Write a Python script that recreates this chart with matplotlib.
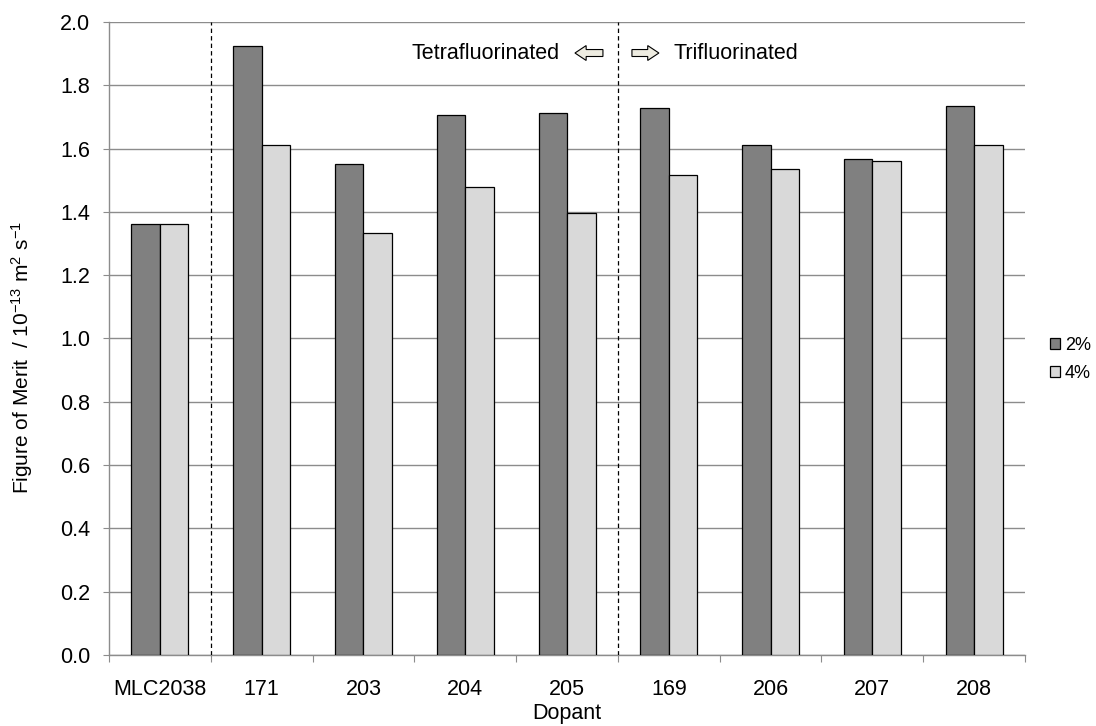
import numpy as np
import matplotlib.pyplot as plt
from matplotlib.patches import FancyArrow

plt.rcParams['font.family'] = ['Liberation Sans', 'DejaVu Sans']
plt.rcParams['mathtext.fontset'] = 'custom'
plt.rcParams['mathtext.rm'] = 'Liberation Sans'
plt.rcParams['mathtext.it'] = 'Liberation Sans'

dopants = ['MLC2038', '171', '203', '204', '205', '169', '206', '207', '208']
fom_2pct = [1.362, 1.924, 1.551, 1.707, 1.712, 1.729, 1.612, 1.568, 1.734]
fom_4pct = [1.362, 1.612, 1.334, 1.479, 1.396, 1.517, 1.535, 1.561, 1.612]
series_names = ['2%', '4%']

fig = plt.figure(figsize=(10.96, 7.26), dpi=100)
ax = fig.add_axes([0.0995, 0.0978, 0.8357, 0.8719])

x = np.arange(len(dopants))
w = 0.28
b1 = ax.bar(x - w / 2, fom_2pct, w, color='#808080', edgecolor='black', linewidth=0.9,
            label=series_names[0], zorder=3)
b2 = ax.bar(x + w / 2, fom_4pct, w, color='#d9d9d9', edgecolor='black', linewidth=0.9,
            label=series_names[1], zorder=3)

ax.set_xlim(-0.5, len(dopants) - 0.5)
ax.set_ylim(0, 2.0)
yt = np.arange(0, 2.01, 0.2)
ax.set_yticks(yt)
ax.set_yticklabels([f'{v:.1f}' for v in yt])
ax.yaxis.grid(True, color='#8c8c8c', linewidth=1.0, zorder=0)
ax.set_axisbelow(True)

# ticks at category boundaries, labels at the centres
ax.set_xticks(np.arange(-0.5, len(dopants), 1.0))
ax.set_xticklabels([])
ax.set_xticks(x, minor=True)
ax.set_xticklabels(dopants, minor=True)
ax.tick_params(axis='x', which='major', length=5, color='#8c8c8c', direction='out')
ax.tick_params(axis='x', which='minor', length=0, pad=17, labelsize=15.5)
ax.tick_params(axis='y', length=4.5, color='#8c8c8c', labelsize=15.5, direction='out', pad=9)

for s in ['top', 'right']:
    ax.spines[s].set_visible(False)
for s in ['left', 'bottom']:
    ax.spines[s].set_color('#8c8c8c')
    ax.spines[s].set_linewidth(1.0)

# separators between groups
for xs in [0.5, 4.5]:
    ax.axvline(xs, color='black', linestyle=(0, (3.5, 2.5)), linewidth=0.9, zorder=4)

ax.set_xlabel('Dopant', fontsize=15.5, labelpad=2.5)
fig.text(22 / 1096, 1 - 358 / 726,
         'Figure of Merit  / 10$^{-13}$ m$^{2}$ s$^{-1}$',
         rotation=90, ha='center', va='center', fontsize=15)

# group annotation with block arrows
y_ann = 1.902
ax.text(3.93, y_ann, 'Tetrafluorinated', ha='right', va='center', fontsize=15.5)
ax.text(5.05, y_ann, 'Trifluorinated', ha='left', va='center', fontsize=15.5)
arrow_kw = dict(width=0.022, head_width=0.047, head_length=0.11, length_includes_head=True,
                fc='#eeece1', ec='black', lw=0.8, zorder=5)
ax.add_patch(FancyArrow(4.353, y_ann, -0.275, 0, **arrow_kw))
ax.add_patch(FancyArrow(4.638, y_ann, 0.265, 0, **arrow_kw))

fig.legend(handles=[b1, b2], labels=series_names, loc='center left',
           bbox_to_anchor=(0.943, 0.505), frameon=False, fontsize=13,
           handlelength=0.55, handleheight=0.55, handletextpad=0.28, labelspacing=0.6)

fig.savefig('out.png', dpi=100)
